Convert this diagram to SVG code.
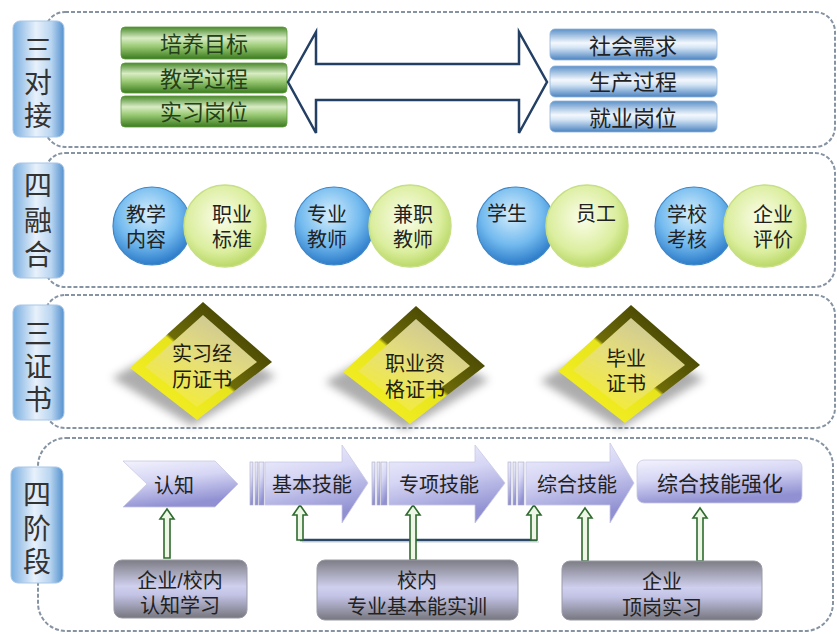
<svg xmlns="http://www.w3.org/2000/svg" width="837" height="634" viewBox="0 0 837 634">
<style>
text{font-family:"Liberation Sans","Noto Sans CJK SC",sans-serif;text-anchor:middle;dominant-baseline:central;fill:#222;transform:translate(0px,1.5px)}
.frame{fill:#fff;stroke:#8593a2;stroke-width:2;stroke-dasharray:4 2}
.lbl{fill:url(#lblG);stroke:#a9c6e6;stroke-width:1}
.lt{font-size:28px;fill:#333}
.gb{fill:url(#greenG);stroke:#5e9a3e;stroke-width:.8}
.gt{font-size:22px;fill:#24401a}
.bb{fill:url(#blueG);stroke:#8fb3da;stroke-width:.8}
.bt{font-size:22px}
.bc{fill:url(#bcG);stroke:#3f86c6;stroke-width:1.2}
.gc{fill:url(#gcG);stroke:#c7df86;stroke-width:1.5}
.ct{font-size:20px}
.dt{font-size:20px;fill:#1e1e10}
.arr{fill:url(#chevG);stroke:#c9c9e4;stroke-width:.8}
.str{fill:url(#chevG);stroke:#a8a8c4;stroke-width:.6}
.at{font-size:20px}
.box{fill:url(#boxG);stroke:#9a9aa8;stroke-width:1}
.xt{font-size:20px}
.up{fill:#eef6e6;stroke:#2f6b2f;stroke-width:1.6}
</style>
<defs>
<linearGradient id="lblG" x1="0" y1="0" x2="1" y2="0">
<stop offset="0" stop-color="#79aee0"/><stop offset="0.45" stop-color="#e8f1fb"/><stop offset="0.75" stop-color="#b9d5f0"/><stop offset="1" stop-color="#5592cf"/>
</linearGradient>
<linearGradient id="greenG" x1="0" y1="0" x2="0" y2="1">
<stop offset="0" stop-color="#4a8a2c"/><stop offset="0.35" stop-color="#d9ecc5"/><stop offset="0.6" stop-color="#9ccb76"/><stop offset="1" stop-color="#3b7b1f"/>
</linearGradient>
<linearGradient id="blueG" x1="0" y1="0" x2="0" y2="1">
<stop offset="0" stop-color="#5c91c9"/><stop offset="0.45" stop-color="#f4f8fd"/><stop offset="0.6" stop-color="#d5e5f5"/><stop offset="1" stop-color="#4a82c0"/>
</linearGradient>
<radialGradient id="bcG" cx="0.45" cy="0.35" r="0.7">
<stop offset="0" stop-color="#d6eefc"/><stop offset="0.55" stop-color="#74bbef"/><stop offset="1" stop-color="#1e6fc2"/>
</radialGradient>
<radialGradient id="gcG" cx="0.45" cy="0.4" r="0.7">
<stop offset="0" stop-color="#fbfdea"/><stop offset="0.6" stop-color="#dbee9e"/><stop offset="1" stop-color="#a9cd4a"/>
</radialGradient>
<linearGradient id="diaO" x1="1" y1="0" x2="0" y2="1">
<stop offset="0" stop-color="#2e2e00"/><stop offset="0.5" stop-color="#6e6c08"/><stop offset="0.52" stop-color="#e8e41c"/><stop offset="1" stop-color="#f7f325"/>
</linearGradient>
<linearGradient id="diaI" x1="0.8" y1="0" x2="0.2" y2="1">
<stop offset="0" stop-color="#c9c39a"/><stop offset="0.5" stop-color="#e6df7a"/><stop offset="1" stop-color="#f5ee2c"/>
</linearGradient>
<linearGradient id="chevG" x1="0" y1="0" x2="0.3" y2="1">
<stop offset="0" stop-color="#f2f2fd"/><stop offset="0.45" stop-color="#d6d6f5"/><stop offset="1" stop-color="#9090d2"/>
</linearGradient>
<linearGradient id="boxG" x1="0" y1="0" x2="0" y2="1">
<stop offset="0" stop-color="#7d7d85"/><stop offset="0.45" stop-color="#cfcfee"/><stop offset="0.6" stop-color="#c3c3e6"/><stop offset="1" stop-color="#77777f"/>
</linearGradient>
<filter id="blur" x="-20%" y="-20%" width="140%" height="140%"><feGaussianBlur stdDeviation="4"/></filter>
<g id="diamond">
<polygon points="-8,-30 76,14 -8,64 -88,16" fill="#6a6a6a" opacity="0.55" filter="url(#blur)"/>
<polygon points="3,-60 72,0 -3,58 -70,6" fill="url(#diaO)"/>
<polygon points="3,-47 57,0 -3,45 -55,5" fill="url(#diaI)"/>
</g>
</defs>

<rect x="0" y="0" width="837" height="634" fill="#fff"/>

<!-- Section frames -->
<g id="frames">
<rect class="frame" x="45" y="12" width="790" height="135" rx="20"/>
<rect class="frame" x="45" y="153" width="790" height="134" rx="20"/>
<rect class="frame" x="45" y="295" width="790" height="133" rx="20"/>
<rect class="frame" x="38" y="438" width="795" height="193" rx="28"/>
</g>

<!-- Section labels -->
<g id="label-sanduijie"><rect class="lbl" x="13" y="21" width="51" height="116" rx="7"/>
<text class="lt"><tspan x="38" y="48">三</tspan><tspan x="38" y="81">对</tspan><tspan x="38" y="114">接</tspan></text></g>
<g id="label-sironghe"><rect class="lbl" x="13" y="163" width="51" height="115" rx="7"/>
<text class="lt"><tspan x="38" y="184">四</tspan><tspan x="38" y="219">融</tspan><tspan x="38" y="253">合</tspan></text></g>
<g id="label-sanzhengshu"><rect class="lbl" x="13" y="305" width="51" height="115" rx="7"/>
<text class="lt"><tspan x="38" y="332">三</tspan><tspan x="38" y="365">证</tspan><tspan x="38" y="398">书</tspan></text></g>
<g id="label-sijieduan"><rect class="lbl" x="11" y="467" width="52" height="116" rx="7"/>
<text class="lt"><tspan x="37" y="493">四</tspan><tspan x="37" y="527">阶</tspan><tspan x="37" y="560">段</tspan></text></g>

<!-- Section 1 -->
<g id="peiyangmubiao"><rect class="gb" x="121" y="27" width="166" height="32" rx="4"/><text class="gt" x="204" y="43">培养目标</text></g>
<g id="jiaoxueguocheng"><rect class="gb" x="121" y="63" width="166" height="30" rx="4"/><text class="gt" x="204" y="78">教学过程</text></g>
<g id="shixigangwei"><rect class="gb" x="121" y="96" width="166" height="31" rx="4"/><text class="gt" x="204" y="111">实习岗位</text></g>
<g id="shehuixuqiu"><rect class="bb" x="550" y="29" width="167" height="31" rx="5"/><text class="bt" x="633" y="45">社会需求</text></g>
<g id="shengchanguocheng"><rect class="bb" x="550" y="66" width="167" height="31" rx="5"/><text class="bt" x="633" y="81">生产过程</text></g>
<g id="jiuyegangwei"><rect class="bb" x="550" y="101" width="167" height="31" rx="5"/><text class="bt" x="633" y="117">就业岗位</text></g>
<g id="connectors">
<path d="M288,82 L316,32 V64 H519 V32 L547,82 L519,133 V100 H316 V133 Z" fill="#fff" stroke="#233f63" stroke-width="2.5" stroke-linejoin="miter"/>
<path d="M300,540 H537" stroke="#2c4868" stroke-width="2.5" fill="none"/>
<path d="M302,542 H539" stroke="#9fb0c0" stroke-width="1" fill="none" opacity="0.6"/>
<path class="up" d="M167,509 L174,519 L170,519 L170,558 L164,558 L164,519 L160,519 Z"/>
<path class="up" d="M300,505 L307,515 L303,515 L303,540 L297,540 L297,515 L293,515 Z"/>
<path class="up" d="M413,505 L420,515 L416,515 L416,560 L410,560 L410,515 L406,515 Z"/>
<path class="up" d="M534,505 L541,515 L537,515 L537,540 L531,540 L531,515 L527,515 Z"/>
<path class="up" d="M585,508 L592,518 L588,518 L588,561 L582,561 L582,518 L578,518 Z"/>
<path class="up" d="M700,508 L707,518 L703,518 L703,561 L697,561 L697,518 L693,518 Z"/>
</g>

<!-- Section 2 circles -->
<g id="jiaoxueneirong"><circle class="bc" cx="152" cy="226" r="39"/><text class="ct"><tspan x="146" y="213">教学</tspan><tspan x="146" y="238">内容</tspan></text></g>
<g id="zhiyebiaozhun"><circle class="gc" cx="225" cy="226" r="41"/><text class="ct"><tspan x="232" y="213">职业</tspan><tspan x="232" y="238">标准</tspan></text></g>
<g id="zhuanyejiaoshi"><circle class="bc" cx="334" cy="226" r="39"/><text class="ct"><tspan x="327" y="213">专业</tspan><tspan x="327" y="238">教师</tspan></text></g>
<g id="jianzhijiaoshi"><circle class="gc" cx="410" cy="226" r="41"/><text class="ct"><tspan x="413" y="213">兼职</tspan><tspan x="413" y="238">教师</tspan></text></g>
<g id="xuesheng"><circle class="bc" cx="516" cy="226" r="39"/><text class="ct" x="507" y="212">学生</text></g>
<g id="yuangong"><circle class="gc" cx="587" cy="226" r="41"/><text class="ct" x="596" y="212">员工</text></g>
<g id="xuexiaokaohe"><circle class="bc" cx="694" cy="226" r="39"/><text class="ct"><tspan x="687" y="213">学校</tspan><tspan x="687" y="238">考核</tspan></text></g>
<g id="qiyepingjia"><circle class="gc" cx="765" cy="226" r="41"/><text class="ct"><tspan x="773" y="213">企业</tspan><tspan x="773" y="238">评价</tspan></text></g>

<!-- Section 3 diamonds -->
<g id="shixijinglizhengshu"><use href="#diamond" x="200" y="362"/><text class="dt"><tspan x="202" y="352">实习经</tspan><tspan x="202" y="378">历证书</tspan></text></g>
<g id="zhiyezigezhengshu"><use href="#diamond" x="413" y="366"/><text class="dt"><tspan x="415" y="362">职业资</tspan><tspan x="415" y="388">格证书</tspan></text></g>
<g id="biyezhengshu"><use href="#diamond" x="628" y="365"/><text class="dt"><tspan x="626" y="357">毕业</tspan><tspan x="626" y="382">证书</tspan></text></g>

<!-- Section 4 -->
<g id="renzhi"><path class="arr" d="M123,461 H215 L238,484 L215,507 H123 L147,484 Z"/><text class="at" x="174" y="484">认知</text></g>
<g id="jibenjineng">
<rect class="str" x="250" y="462" width="3" height="43"/><rect class="str" x="255" y="462" width="3" height="43"/><rect class="str" x="259" y="462" width="5" height="43"/>
<path class="arr" d="M265,462 H342 V445 L368,483 L342,523 V505 H265 Z"/><text class="at" x="312" y="483">基本技能</text></g>
<g id="zhuanxiangjineng">
<rect class="str" x="372" y="462" width="3" height="43"/><rect class="str" x="377" y="462" width="3" height="43"/><rect class="str" x="381" y="462" width="6" height="43"/>
<path class="arr" d="M389,462 H475 V445 L505,483 L475,523 V505 H389 Z"/><text class="at" x="439" y="483">专项技能</text></g>
<g id="zonghejineng">
<rect class="str" x="508" y="462" width="3" height="43"/><rect class="str" x="513" y="462" width="3" height="43"/><rect class="str" x="518" y="462" width="6" height="43"/>
<path class="arr" d="M526,462 H610 V443 L634,483 L610,523 V505 H526 Z"/><text class="at" x="577" y="483">综合技能</text></g>
<g id="zonghejinengqianghua"><rect class="arr" x="637" y="460" width="165" height="43" rx="7"/><text class="at" x="720" y="482" style="font-size:21px">综合技能强化</text></g>
<g id="qiyexiaonei"><rect class="box" x="114" y="560" width="133" height="58" rx="8"/><text class="xt"><tspan x="180" y="579">企业/校内</tspan><tspan x="180" y="604">认知学习</tspan></text></g>
<g id="xiaoneishixun"><rect class="box" x="317" y="560" width="201" height="60" rx="8"/><text class="xt"><tspan x="417" y="579">校内</tspan><tspan x="417" y="605">专业基本能实训</tspan></text></g>
<g id="qiyedinggang"><rect class="box" x="562" y="561" width="200" height="59" rx="8"/><text class="xt"><tspan x="662" y="580">企业</tspan><tspan x="662" y="606">顶岗实习</tspan></text></g>
</svg>
